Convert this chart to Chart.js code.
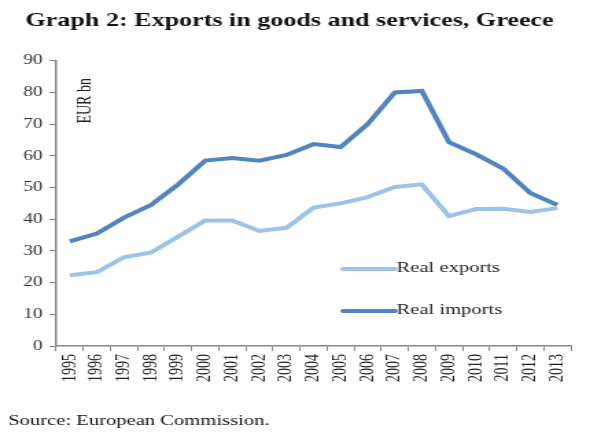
<!DOCTYPE html>
<html>
<head>
<meta charset="utf-8">
<script src="https://cdn.jsdelivr.net/npm/chart.js@4/dist/chart.umd.min.js"></script>
<style>
  html, body { margin: 0; padding: 0; background: #fff; }
  /* the reference is stretched sideways, so the canvas is drawn narrow and widened by css */
  #exportsChart { display: block; width: 590px; height: 432px; }
</style>
</head>
<body>
<canvas id="exportsChart" width="430" height="432" style="width:590px;height:432px"></canvas>
<script>
const years = ['1995', '1996', '1997', '1998', '1999', '2000', '2001', '2002', '2003', '2004',
               '2005', '2006', '2007', '2008', '2009', '2010', '2011', '2012', '2013'];
const realExports = [22.3, 23.3, 28.0, 29.5, 34.5, 39.6, 39.6, 36.3, 37.3, 43.7,
                     45.0, 47.0, 50.2, 51.0, 41.0, 43.2, 43.3, 42.3, 43.5];
const realImports = [33.0, 35.5, 40.5, 44.5, 51.0, 58.5, 59.3, 58.5, 60.3, 63.7,
                     62.8, 70.0, 80.0, 80.5, 64.3, 60.5, 56.0, 48.3, 44.5];
const yTicks = [0, 10, 20, 30, 40, 50, 60, 70, 80, 90];

const serif = '"Liberation Serif", "DejaVu Serif", serif';

// legend inside the plot + rotated unit label
const innerBits = {
    id: 'innerBits',
    afterDraw(chart) {
        const ctx = chart.ctx;
        const area = chart.chartArea;
        ctx.save();
        ctx.font = '15px ' + serif;
        ctx.fillStyle = '#222';
        ctx.textBaseline = 'middle';
        const rows = [269, 311];
        chart.data.datasets.forEach(function(ds, i) {
            ctx.strokeStyle = ds.borderColor;
            ctx.lineWidth = ds.borderWidth;
            ctx.lineCap = 'round';
            ctx.beginPath();
            ctx.moveTo(250, rows[i]);
            ctx.lineTo(288, rows[i]);
            ctx.stroke();
            ctx.fillText(ds.label, 289, rows[i] - 1);
        });
        // EUR bn
        ctx.translate(area.left + 21, area.top + 40);
        ctx.rotate(-Math.PI / 2);
        ctx.textAlign = 'center';
        ctx.font = '14px ' + serif;
        ctx.fillText('EUR bn', 0, 0);
        ctx.restore();
    }
};

new Chart(document.getElementById('exportsChart').getContext('2d'), {
    type: 'line',
    data: {
        labels: years,
        datasets: [{
            label: 'Real exports',
            data: realExports,
            borderColor: '#9cc3e8',
            borderWidth: 4,
            pointRadius: 0,
            tension: 0
        }, {
            label: 'Real imports',
            data: realImports,
            borderColor: '#5284bf',
            borderWidth: 4,
            pointRadius: 0,
            tension: 0
        }]
    },
    options: {
        responsive: false,
        devicePixelRatio: 1,
        animation: false,
        layout: { padding: { left: 6, right: 14, top: 0, bottom: 2 } },
        plugins: {
            legend: { display: false },
            tooltip: { enabled: false },
            title: {
                display: true,
                text: 'Graph 2: Exports in goods and services, Greece',
                color: '#111',
                font: { family: serif, size: 19, weight: 'bold' },
                padding: { top: 10, bottom: 28 }
            },
            subtitle: {
                display: true,
                position: 'bottom',
                align: 'start',
                text: 'Source: European Commission.',
                color: '#111',
                font: { family: serif, size: 15 },
                padding: { top: 27, bottom: 0 }
            }
        },
        scales: {
            x: {
                offset: true,
                grid: { offset: true, drawOnChartArea: false, drawTicks: true, tickLength: 5, color: '#888' },
                border: { color: '#888', width: 1.5 },
                ticks: {
                    autoSkip: false,
                    maxRotation: 90,
                    minRotation: 90,
                    color: '#222',
                    padding: 3,
                    font: { family: serif, size: 14 }
                }
            },
            y: {
                min: 0,
                max: 90,
                afterBuildTicks(axis) { axis.ticks = yTicks.map(v => ({ value: v })); },
                afterFit(axis) { axis.width += 6; },
                grid: { drawOnChartArea: false, drawTicks: true, tickLength: 5, color: '#888' },
                border: { color: '#888', width: 1.5 },
                ticks: {
                    color: '#333',
                    padding: 5,
                    font: { family: serif, size: 14 }
                }
            }
        }
    },
    plugins: [innerBits]
});
</script>
</body>
</html>
